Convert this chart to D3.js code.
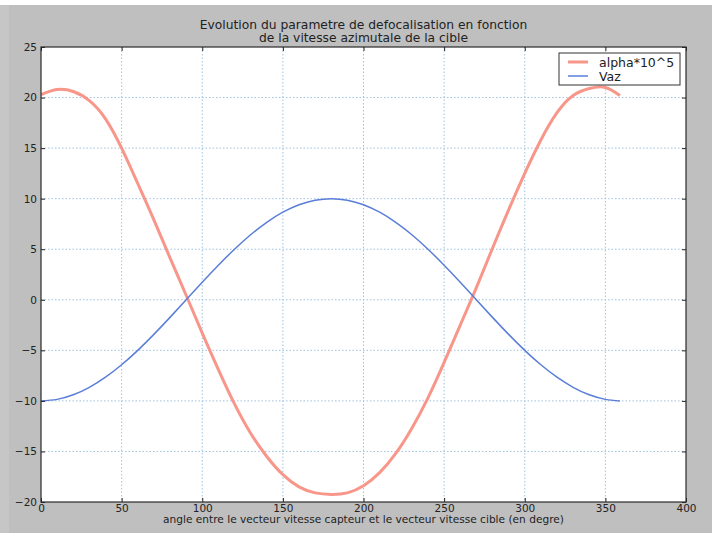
<!DOCTYPE html>
<html><head><meta charset="utf-8">
<script src="https://cdn.jsdelivr.net/npm/d3@7"></script>
<style>
html,body{margin:0;padding:0;background:#bfbfbf;}
svg{display:block;font-family:"DejaVu Sans",sans-serif;}
</style></head>
<body>
<svg id="chart" width="712" height="533"></svg>
<script>
// angle (degrees)
const theta = [0,10,20,30,40,50,60,70,80,90,100,110,120,130,140,150,160,170,180,
               190,200,210,220,230,240,250,260,270,280,290,300,310,320,330,340,350,359];
// alpha*10^5 (red)
const alpha = [20.3,20.8,20.6,19.7,17.9,15.0,11.5,7.9,4.15,0.45,-3.3,-6.9,-10.3,-13.2,-15.5,-17.3,-18.5,-19.1,-19.25,
               -19.1,-18.4,-17.1,-15.2,-12.7,-9.7,-6.2,-2.5,1.2,5.1,8.9,12.5,15.8,18.5,20.2,20.9,21.0,20.2];
// Vaz (blue)
const vaz = [-10,-9.85,-9.4,-8.66,-7.66,-6.43,-5,-3.42,-1.74,0,1.74,3.42,5,6.43,7.66,8.66,9.4,9.85,10,
             9.85,9.4,8.66,7.66,6.43,5,3.42,1.74,0,-1.74,-3.42,-5,-6.43,-7.66,-8.66,-9.4,-9.85,-10];
const xTicks = [0,50,100,150,200,250,300,350,400];
const yTicks = [-20,-15,-10,-5,0,5,10,15,20,25];
const seriesNames = ["alpha*10^5","Vaz"];
const titleLines = ["Evolution du parametre de defocalisation en fonction","de la vitesse azimutale de la cible"];
const xLabel = "angle entre le vecteur vitesse capteur et le vecteur vitesse cible (en degre)";

const svg = d3.select("#chart");
const L = 41, R = 686, T = 47, B = 502;
const x = d3.scaleLinear().domain([0,400]).range([L,R]);
const y = d3.scaleLinear().domain([-20,25]).range([B,T]);

svg.append("rect").attr("x",0).attr("y",0).attr("width",712).attr("height",5).attr("fill","#ffffff");
svg.append("rect").attr("x",0).attr("y",5).attr("width",9).attr("height",528).attr("fill","#c6c6c6");

svg.append("rect").attr("x",L).attr("y",T).attr("width",R-L).attr("height",B-T).attr("fill","#ffffff");

// grid
const grid = svg.append("g");
grid.selectAll(".gx").data(xTicks.slice(1,-1)).join("line")
  .attr("x1",d=>x(d)).attr("x2",d=>x(d)).attr("y1",T).attr("y2",B)
  .attr("stroke","#9fc3df").attr("stroke-width",1).attr("stroke-dasharray","1.5,2");
grid.selectAll(".gy").data(yTicks.slice(1,-1)).join("line")
  .attr("y1",d=>y(d)).attr("y2",d=>y(d)).attr("x1",L).attr("x2",R)
  .attr("stroke","#9fc3df").attr("stroke-width",1).attr("stroke-dasharray","1.5,2");

// lines
const lineA = d3.line().x((d,i)=>x(theta[i])).y(d=>y(d)).curve(d3.curveNatural);
svg.append("path").datum(alpha).attr("d",lineA).attr("fill","none")
  .attr("stroke","#f8968a").attr("stroke-width",3).attr("stroke-linejoin","round");
svg.append("path").datum(vaz).attr("d",lineA).attr("fill","none")
  .attr("stroke","#5a7ed8").attr("stroke-width",1.5);

// axes
const fmt = d=> d<0 ? "\u2212"+Math.abs(d) : String(d);
const xAxis = d3.axisBottom(x).tickValues(xTicks).tickSizeInner(-4).tickSizeOuter(0).tickPadding(3).tickFormat(fmt);
svg.append("g").attr("transform",`translate(0,${B})`).call(xAxis);
const xAxisTop = d3.axisTop(x).tickValues(xTicks).tickSizeInner(-4).tickSizeOuter(0).tickFormat("");
svg.append("g").attr("transform",`translate(0,${T})`).call(xAxisTop);
const yAxis = d3.axisLeft(y).tickValues(yTicks).tickSizeInner(-4).tickSizeOuter(0).tickPadding(4).tickFormat(fmt);
svg.append("g").attr("transform",`translate(${L},0)`).call(yAxis);
const yAxisR = d3.axisRight(y).tickValues(yTicks).tickSizeInner(-4).tickSizeOuter(0).tickFormat("");
svg.append("g").attr("transform",`translate(${R},0)`).call(yAxisR);
svg.selectAll(".domain").remove();
svg.selectAll(".tick line").attr("stroke","#222");
svg.selectAll(".tick text").attr("fill","#222").style("font-size","10.5px").style("font-family","DejaVu Sans");

svg.append("rect").attr("x",L).attr("y",T).attr("width",R-L).attr("height",B-T)
  .attr("fill","none").attr("stroke","#2a2a2a").attr("stroke-width",1.2);

// title
svg.append("g").selectAll("text").data(titleLines).join("text")
  .attr("x",(L+R)/2).attr("y",(d,i)=>29+i*13).attr("text-anchor","middle")
  .attr("fill","#222").style("font-size","12.3px").text(d=>d);
// x label
svg.append("text").attr("x",(L+R)/2).attr("y",523).attr("text-anchor","middle")
  .attr("fill","#222").style("font-size","10.6px").text(xLabel);

// legend
const colors = ["#f8968a","#5a7ed8"];
const widths = [3,1.5];
const lg = svg.append("g");
lg.append("rect").attr("x",559).attr("y",53).attr("width",121).attr("height",32)
  .attr("fill","#fff").attr("stroke","#333").attr("stroke-width",1);
seriesNames.forEach((n,i)=>{
  const yy = 62 + i*14;
  lg.append("line").attr("x1",568).attr("x2",588).attr("y1",yy).attr("y2",yy)
    .attr("stroke",colors[i]).attr("stroke-width",widths[i]);
  lg.append("text").attr("x",599).attr("y",yy+4.5).attr("fill","#222").style("font-size","12.5px").text(n);
});
</script>
</body></html>
